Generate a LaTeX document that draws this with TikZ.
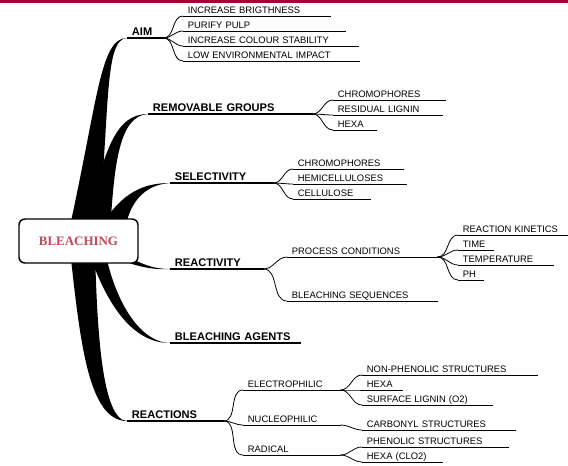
\documentclass[tikz,border=0pt]{standalone}
\usepackage{fontspec}
\setmainfont{Liberation Sans}
\newfontfamily\rootserif{Liberation Serif}
\usetikzlibrary{positioning}
\definecolor{bandred}{RGB}{158,0,56}
\definecolor{rootred}{RGB}{190,75,85}
\begin{document}
\begin{tikzpicture}[x=0.75pt, y=-0.75pt, node distance=11.25pt,
    root/.style = {draw, line width=1.1pt, rounded corners=4.5pt, fill=white, minimum width=89.25pt, minimum height=33pt, font=\rootserif\fontsize{9.7}{11}\selectfont\bfseries},
    main/.style = {anchor=south west, font=\fontsize{8.3}{10}\selectfont\bfseries, inner xsep=3.5pt, inner ysep=1.5pt, text depth=0pt, align=left, text width={#1*0.75pt-7pt}},
    sub/.style = {anchor=south west, font=\fontsize{7.05}{8}\selectfont, inner xsep=3.5pt, inner ysep=1.5pt, text depth=0pt, align=left, text width={#1*0.75pt-7pt}},
    fan/.style = {line width=0.6pt, out=0, in=180}]
  \useasboundingbox (0,0) rectangle (568,465);
  \fill[bandred] (0,0) rectangle (568,3);

  \fill (68,235) .. controls (98,100) and (100,38) .. (127,38) .. controls (104,39) and (110,110) .. (98,235) -- cycle;
  \fill (84,235) .. controls (104,150) and (115,114) .. (148,114) .. controls (120,116) and (114,160) .. (110,235) -- cycle;
  \fill (96,235) .. controls (118,195) and (140,183) .. (170,183) .. controls (142,185) and (128,205) .. (124,235) -- cycle;
  \fill (110,245) .. controls (135,262) and (150,269) .. (170,269) .. controls (150,270) and (135,266) .. (110,256) -- cycle;
  \fill (88,250) .. controls (105,300) and (130,343) .. (170,343) .. controls (135,342) and (112,290) .. (105,250) -- cycle;
  \fill (70,250) .. controls (80,340) and (88,421) .. (127,421) .. controls (102,420) and (97,330) .. (95,250) -- cycle;

  \node[root] (BL) at (78.5,241) {\color{rootred}BLEACHING};

  \node[main=36] (AIM) at (127,38) {AIM};
  \node[main=164] (RG) at (148,114) {REMOVABLE GROUPS};
  \node[main=103] (SEL) at (170,183) {SELECTIVITY};
  \node[main=93] (RE) at (170,269) {REACTIVITY};
  \node[main=130] (BA) at (170,343) {BLEACHING AGENTS};
  \node[main=96] (RC) at (127,421) {REACTIONS};

  \node[sub=147] (A1) at (183,16) {INCREASE BRIGTHNESS};
  \node[sub=162, below=of A1.south west, anchor=south west] (A2) {PURIFY PULP};
  \node[sub=175, below=of A2.south west, anchor=south west] (A3) {INCREASE COLOUR STABILITY};
  \node[sub=176, below=of A3.south west, anchor=south west] (A4) {LOW ENVIRONMENTAL IMPACT};

  \node[sub=112] (RG1) at (333,100) {CHROMOPHORES};
  \node[sub=109, below=of RG1.south west, anchor=south west] (RG2) {RESIDUAL LIGNIN};
  \node[sub=43, below=of RG2.south west, anchor=south west] (RG3) {HEXA};

  \node[sub=110] (S1) at (293,169) {CHROMOPHORES};
  \node[sub=113, below=of S1.south west, anchor=south west] (S2) {HEMICELLULOSES};
  \node[sub=77, below=of S2.south west, anchor=south west] (S3) {CELLULOSE};

  \node[sub=150] (PC) at (287,257) {PROCESS CONDITIONS};
  \node[sub=150] (BS) at (287,301) {BLEACHING SEQUENCES};
  \node[sub=110] (PC1) at (458,235) {REACTION KINETICS};
  \node[sub=35, below=of PC1.south west, anchor=south west] (PC2) {TIME};
  \node[sub=95, below=of PC2.south west, anchor=south west] (PC3) {TEMPERATURE};
  \node[sub=25, below=of PC3.south west, anchor=south west] (PC4) {PH};

  \node[sub=97] (EL) at (243,390) {ELECTROPHILIC};
  \node[sub=97] (NU) at (243,425) {NUCLEOPHILIC};
  \node[sub=97] (RA) at (243,455) {RADICAL};
  \node[sub=175] (EL1) at (362,375) {NON-PHENOLIC STRUCTURES};
  \node[sub=40, below=of EL1.south west, anchor=south west] (EL2) {HEXA};
  \node[sub=130, below=of EL2.south west, anchor=south west] (EL3) {SURFACE LIGNIN (O2)};
  \node[sub=153] (NU1) at (362,430) {CARBONYL STRUCTURES};
  \node[sub=146] (RA1) at (362,447) {PHENOLIC STRUCTURES};
  \node[sub=80, below=of RA1.south west, anchor=south west] (RA2) {HEXA (CLO2)};

  \foreach \n in {AIM,RG,SEL,RE,BA,RC}
    \draw[line width=0.9pt] (\n.south west) -- (\n.south east);
  \foreach \n in {A1,A2,A3,A4,RG1,RG2,RG3,S1,S2,S3,PC,BS,PC1,PC2,PC3,PC4,EL,NU,RA,EL1,EL2,EL3,NU1,RA1,RA2}
    \draw[line width=0.6pt] (\n.south west) -- (\n.south east);

  \foreach \n in {A1,A2,A3,A4} \draw[fan] (AIM.south east) to (\n.south west);
  \foreach \n in {RG1,RG2,RG3} \draw[fan] (RG.south east) to (\n.south west);
  \foreach \n in {S1,S2,S3} \draw[fan] (SEL.south east) to (\n.south west);
  \foreach \n in {PC,BS} \draw[fan] (RE.south east) to (\n.south west);
  \foreach \n in {PC1,PC2,PC3,PC4} \draw[fan] (PC.south east) to (\n.south west);
  \foreach \n in {EL,NU,RA} \draw[fan] (RC.south east) to (\n.south west);
  \foreach \n in {EL1,EL2,EL3} \draw[fan] (EL.south east) to (\n.south west);
  \draw[fan] (NU.south east) to (NU1.south west);
  \foreach \n in {RA1,RA2} \draw[fan] (RA.south east) to (\n.south west);
\end{tikzpicture}
\end{document}
